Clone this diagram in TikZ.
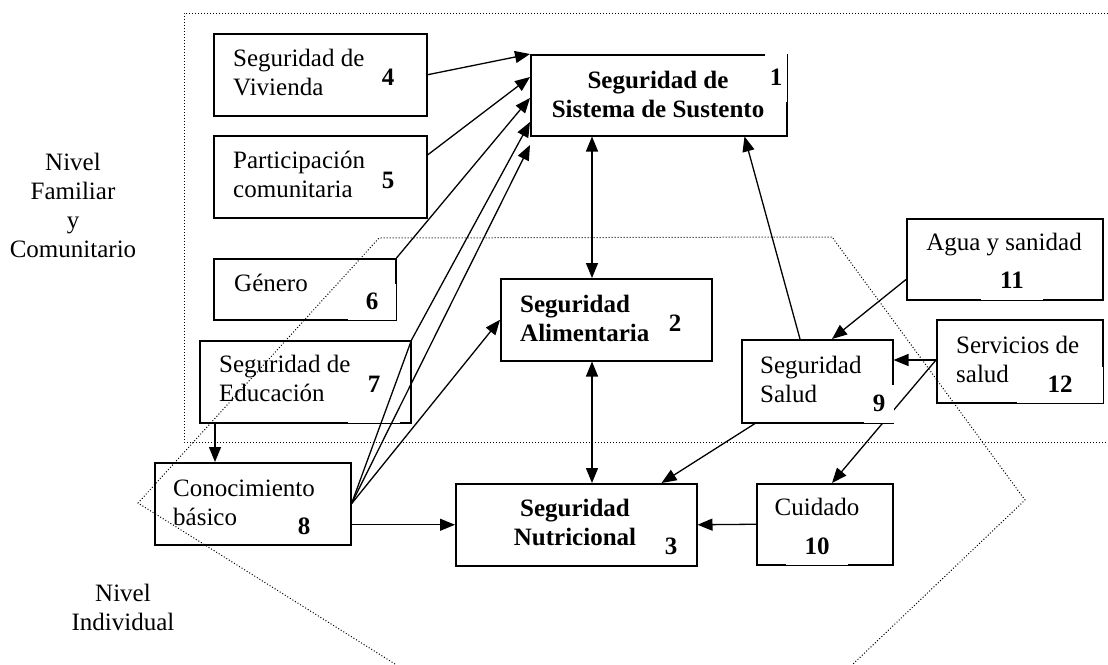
\documentclass[tikz,border=0pt]{standalone}
\usepackage{fontspec}
\setmainfont{Liberation Serif}
\usetikzlibrary{arrows.meta,calc}

\begin{document}
\begin{tikzpicture}[x=1pt,y=-1pt]

        % Setup the styles for the boxes, texts and arrows
        \tikzset{box style/.style={draw, line width=1.5pt, inner sep=0pt, anchor=north west},
                 text style/.style={font=\fontsize{25}{28.75}\selectfont, inner sep=0pt, align=left, anchor=base west},
                 bold style/.style={text style, font=\fontsize{25}{28.75}\selectfont\bfseries},
                 num style/.style={font=\fontsize{25}{28.75}\selectfont\bfseries, fill=white, inner sep=0pt},
                 arrow style/.style={line width=1.3pt, -{Triangle[length=15pt,width=12pt]}},
                 both style/.style={line width=1.3pt, {Triangle[length=15pt,width=12pt]}-{Triangle[length=15pt,width=12pt]}},
                 zone style/.style={line width=1pt, dash pattern=on 1pt off 2pt}}
        \useasboundingbox (0,0) rectangle (1108,664);

        % The two levels
        \draw[zone style] (1108,13) -- (184,13) -- (184,442) -- (1108,442);
        \draw[zone style] (395,664) -- (138,503) -- (379,238) -- (832,237) -- (1025,500) -- (853,664);
        \node[text style, align=center, anchor=base] (fam) at (73,257) {Nivel\\Familiar\\y\\Comunitario};
        \node[text style, align=center, anchor=base] (ind) at (123,630) {Nivel\\Individual};

        % Draw the boxes
        \node[box style, minimum width=256pt, minimum height=81pt] (b1)  at (530,54)  {};
        \node[box style, minimum width=211pt, minimum height=82pt] (b2)  at (500,278) {};
        \node[box style, minimum width=241pt, minimum height=82pt] (b3)  at (455,483) {};
        \node[box style, minimum width=213pt, minimum height=82pt] (b4)  at (213,33)  {};
        \node[box style, minimum width=213pt, minimum height=82pt] (b5)  at (213,135) {};
        \node[box style, minimum width=182pt, minimum height=61pt] (b6)  at (213,258) {};
        \node[box style, minimum width=211pt, minimum height=82pt] (b7)  at (199,340) {};
        \node[box style, minimum width=196pt, minimum height=82pt] (b8)  at (154,462) {};
        \node[box style, minimum width=151pt, minimum height=83pt] (b9)  at (741,339) {};
        \node[box style, minimum width=136pt, minimum height=81pt] (b10) at (756,483) {};
        \node[box style, minimum width=196pt, minimum height=81pt] (b11) at (906,218) {};
        \node[box style, minimum width=166pt, minimum height=83pt] (b12) at (936,319) {};

        \coordinate (s12) at ([yshift=-41pt]b12.north west);
        \draw[arrow style] (s12) -- ([xshift=76pt]b10.north west);

        % Numbers
        \node[num style, minimum width=22pt, minimum height=49pt] (n1)  at (776,77.5)  {1};
        \node[num style, minimum width=50pt, minimum height=73pt] (n2)  at (675,323.5) {2};
        \node[num style, minimum width=40pt, minimum height=37pt] (n3)  at (671,546.5) {3};
        \node[num style, anchor=base] (n4) at (388,85)  {4};
        \node[num style, anchor=base] (n5) at (388,188) {5};
        \node[num style, minimum width=48pt, minimum height=36pt] (n6)  at (372,301.5) {6};
        \node[num style, minimum width=52pt, minimum height=76pt] (n7)  at (374,384.5) {7};
        \node[num style, minimum width=62pt, minimum height=35pt] (n8)  at (304,526.5) {8};
        \node[num style, minimum width=30pt, minimum height=38pt] (n9)  at (879,403.5) {9};
        \node[num style, minimum width=62pt, minimum height=36pt] (n10) at (817,546.5) {10};
        \node[num style, minimum width=62pt, minimum height=38pt] (n11) at (1012,280.5) {11};
        \node[num style, minimum width=86pt, minimum height=36pt] (n12) at (1060,384.5) {12};

        % Connect the boxes with arrows
        \coordinate (ax) at (592,0);
        \draw[arrow style] (b4.east) -- (b1.north west);
        \draw[arrow style] ([yshift=-20pt]b5.north east) -- ([yshift=-23pt]b1.north west);
        \draw[arrow style] (b6.north east) -- ([yshift=-44pt]b1.north west);
        \draw[arrow style] (b8.east) -- (b7.north east) -- ([yshift=-68pt]b1.north west);
        \draw[arrow style] (b8.east) -- ([yshift=-91pt]b1.north west);
        \draw[arrow style] (b8.east) -- (b2.west);
        \draw[arrow style] (b8.east |- b3.west) -- (b3.west);
        \draw[arrow style] ([xshift=16pt]b7.south west) -- ([xshift=16pt]b7.south west |- b8.north);
        \draw[both style] (ax |- b1.south) -- (ax |- b2.north);
        \draw[both style] (ax |- b2.south) -- (ax |- b3.north);
        \draw[arrow style] ([xshift=59pt]b9.north west) -- ([xshift=-43pt]b1.south east);
        \draw[arrow style] ([xshift=14pt]b9.south west) -- ([xshift=-36pt]b3.north east);
        \draw[arrow style] ([yshift=21pt]b11.south west) -- ([xshift=91pt]b9.north west);
        \draw[arrow style] (s12) -- (s12 -| b9.east);
        \draw[arrow style] (b10.west) -- (b3.east);

        % Texts in the boxes (base = last line)
        \node[bold style, align=center, anchor=base] (t1) at (658,117)  {Seguridad de\\Sistema de Sustento};
        \node[bold style] (t2)  at (520,341) {Seguridad\\Alimentaria};
        \node[bold style, align=center, anchor=base] (t3) at (575,545) {Seguridad\\Nutricional};
        \node[text style] (t4)  at (233,95)  {Seguridad de\\Vivienda};
        \node[text style] (t5)  at (233,197) {Participación\\comunitaria};
        \node[text style] (t6)  at (234,291) {Género};
        \node[text style] (t7)  at (219,401) {Seguridad de\\Educación};
        \node[text style] (t8)  at (173,525) {Conocimiento\\básico};
        \node[text style] (t9)  at (760,402) {Seguridad\\Salud};
        \node[text style, anchor=base] (t10) at (817,515) {Cuidado};
        \node[text style, anchor=base] (t11) at (1004,250) {Agua y sanidad};
        \node[text style] (t12) at (956,382) {Servicios de\\salud};
\end{tikzpicture}
\end{document}
